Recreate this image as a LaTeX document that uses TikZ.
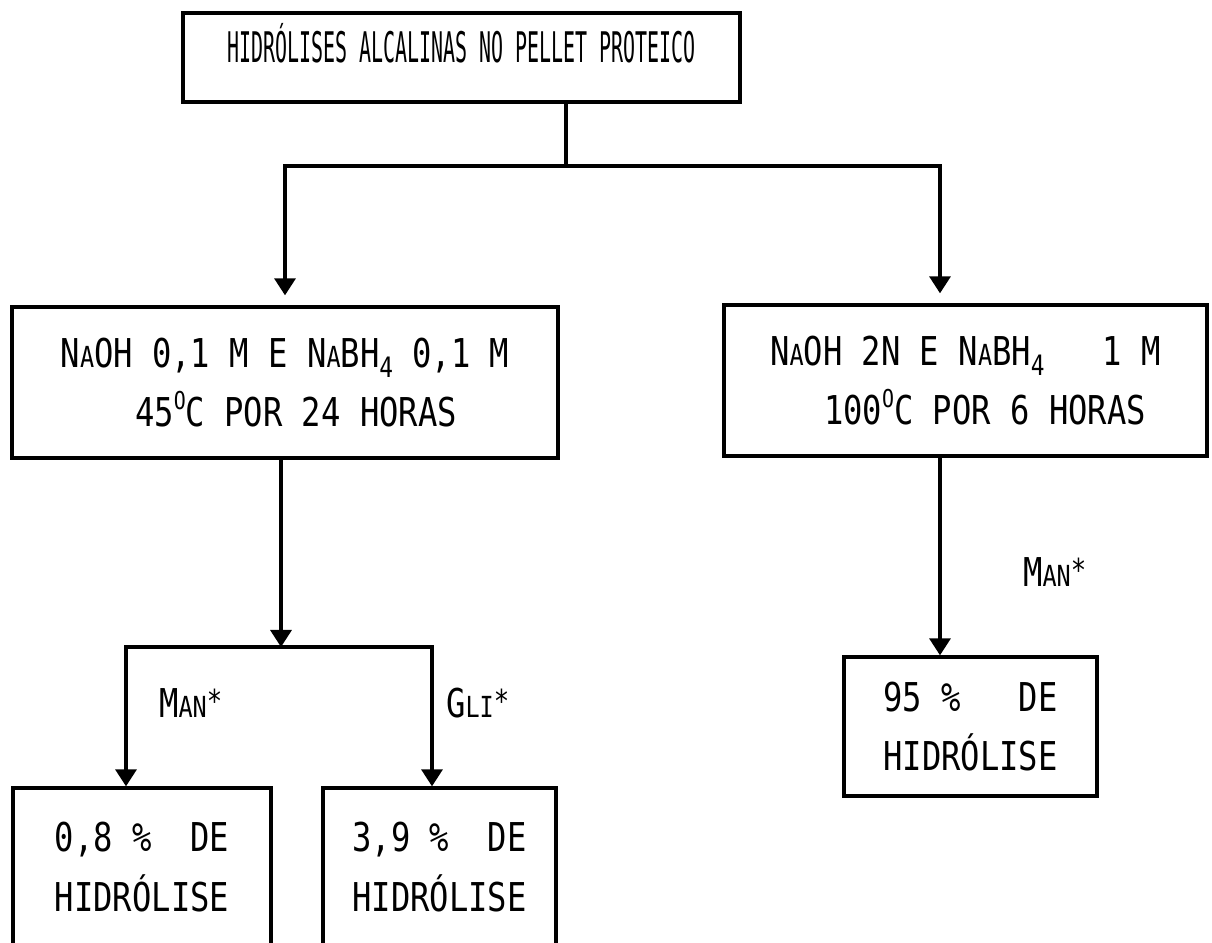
\documentclass[tikz,border=0pt]{standalone}
\usepackage{fontspec}
\usetikzlibrary{arrows.meta,positioning}
\newfontfamily\typefont[FakeStretch=0.81]{DejaVu Sans Mono}
\newfontfamily\narrowfont[FakeStretch=0.473]{DejaVu Sans Mono}
\newcommand{\smcap}[1]{{\fontsize{16.5}{20}\selectfont #1}}
\newcommand{\subidx}[1]{\raisebox{-6pt}{\fontsize{16}{20}\selectfont #1}}
\newcommand{\supidx}[1]{\raisebox{10pt}{\fontsize{14}{16}\selectfont #1}}
\newcommand{\starmark}{\raisebox{3pt}{\fontsize{18}{20}\selectfont *}}
\tikzset{
  >={Triangle[length=3.4mm,width=4.2mm]},
  link/.style={line width=1.9pt},
  flow/.style={->,line width=1.9pt},
  box/.style={
    draw,
    line width=1.9pt,
    align=center,
    inner sep=0pt,
    font=\typefont\fontsize{22.6}{34}\selectfont
  },
  tag/.style={font=\typefont\fontsize{22.6}{34}\selectfont,anchor=west}
}

\begin{document}
\begin{tikzpicture}[x=1cm,y=1cm]
  \clip (0,0) rectangle (24.24,-18.86);

  % boxes
  \node[box,font=\narrowfont\fontsize{24}{34}\selectfont,
    minimum width=11.14cm,minimum height=1.78cm,text depth=.6cm]
    (top) at (9.23,-1.15) {HIDRÓLISES ALCALINAS NO PELLET PROTEICO};
  \node[box,minimum width=10.92cm,minimum height=3.02cm] (mild) at (5.70,-7.65)
    {N\smcap{A}OH 0,1 M E N\smcap{A}BH\subidx{4} 0,1 M\\
     \hspace*{.44cm}45\supidx{O}C POR 24 HORAS};
  \node[box,minimum width=9.66cm,minimum height=3.02cm] (strong) at (19.31,-7.61)
    {N\smcap{A}OH 2N E N\smcap{A}BH\subidx{4}\ \ \ 1 M\\
     \hspace*{.78cm}100\supidx{O}C POR 6 HORAS};
  \node[box,minimum width=5.16cm,minimum height=3.16cm] (lowa) at (2.84,-17.34)
    {0,8 \%\ \ DE\\HIDRÓLISE};
  \node[box,minimum width=4.66cm,minimum height=3.16cm] (lowb) at (8.79,-17.34)
    {3,9 \%\ \ DE\\HIDRÓLISE};
  \node[box,minimum width=5.06cm,minimum height=2.78cm] (yield) at (19.41,-14.53)
    {95 \%\ \ \ DE\\HIDRÓLISE};

  % connectors
  \coordinate (fork) at (11.32,-3.32);
  \draw[link] (top.south -| fork) -- (fork);
  \draw[flow,shorten >=2mm] (fork) -| (mild.north);
  \draw[flow,shorten >=2mm] (fork) -| ([xshift=-.51cm]strong.north);

  \coordinate (split) at (5.62,-12.94);
  \draw[flow] (mild.south -| split) -- (split);
  \draw[flow] (split) -| ([xshift=-.32cm]lowa.north);
  \draw[flow] (split) -| ([xshift=-.15cm]lowb.north);

  \draw[flow] ([xshift=-.51cm]strong.south) -- ([xshift=-.51cm]strong.south |- yield.north);

  % labels
  \node[tag] (mana) at (3.06,-14.06) {M\smcap{AN}\starmark};
  \node[tag] (gli) at (8.80,-14.06) {G\smcap{LI}\starmark};
  \node[tag] (manb) at (20.34,-11.44) {M\smcap{AN}\starmark};
\end{tikzpicture}
\end{document}
